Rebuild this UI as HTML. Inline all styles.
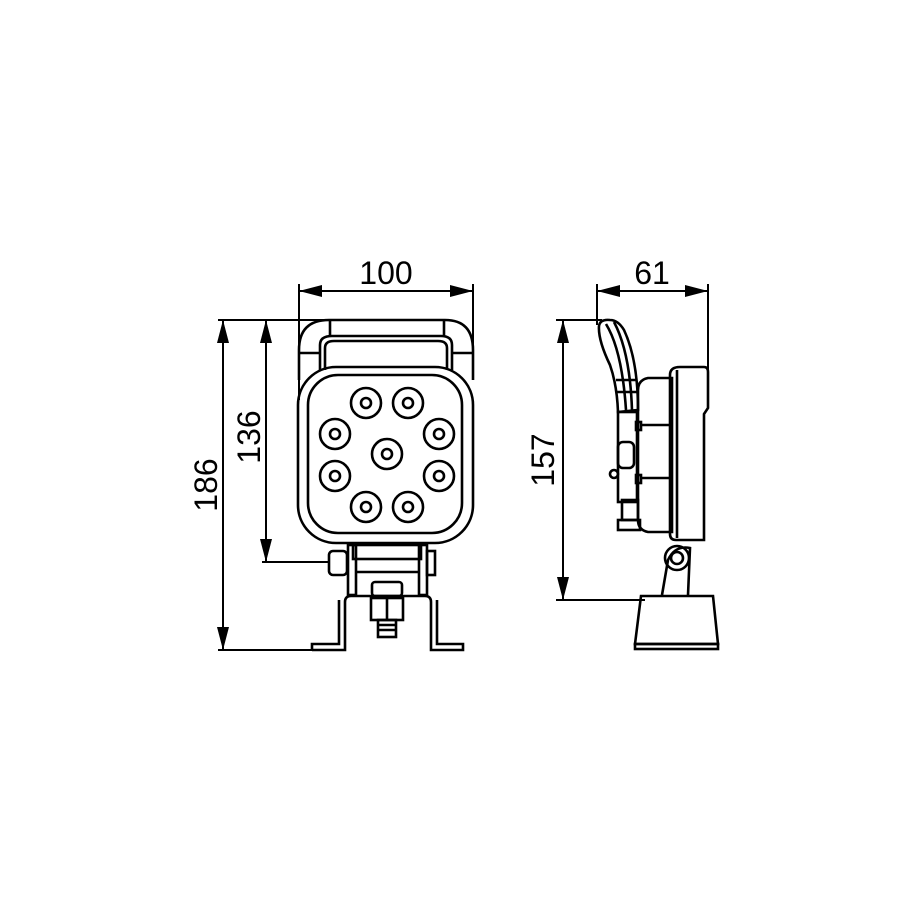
<!DOCTYPE html>
<html><head><style>html,body{margin:0;padding:0;background:#fff}svg{display:block}</style></head>
<body>
<svg width="915" height="915" viewBox="0 0 915 915" xmlns="http://www.w3.org/2000/svg">
<g fill="none" stroke="#000" stroke-width="2">
<line x1="299" y1="291" x2="473" y2="291"/>
<line x1="299" y1="284" x2="299" y2="400"/>
<line x1="473" y1="284" x2="473" y2="345"/>
<line x1="218" y1="320" x2="445" y2="320"/>
<line x1="223" y1="320" x2="223" y2="650"/>
<line x1="218" y1="650" x2="318" y2="650"/>
<line x1="266" y1="320" x2="266" y2="562"/>
<line x1="262" y1="562" x2="330" y2="562"/>
<line x1="597" y1="291" x2="708" y2="291"/>
<line x1="597" y1="284" x2="597" y2="325"/>
<line x1="708" y1="284" x2="708" y2="370"/>
<line x1="563" y1="320" x2="563" y2="600"/>
<line x1="556" y1="320" x2="602" y2="320"/>
<line x1="556" y1="600" x2="645" y2="600"/>
</g>
<g fill="#000">
<polygon points="299,291 322,285 322,297"/>
<polygon points="473,291 450,285 450,297"/>
<polygon points="223,320 217,343 229,343"/>
<polygon points="223,650 217,627 229,627"/>
<polygon points="266,320 260,343 272,343"/>
<polygon points="266,562 260,539 272,539"/>
<polygon points="597,291 620,285 620,297"/>
<polygon points="708,291 685,285 685,297"/>
<polygon points="563,320 557,343 569,343"/>
<polygon points="563,600 557,577 569,577"/>
</g>
<g font-family="Liberation Sans, sans-serif" font-size="32" fill="#000" text-anchor="middle">
<text x="386" y="284">100</text>
<text x="652" y="284">61</text>
<text transform="translate(217,485) rotate(-90)">186</text>
<text transform="translate(260,437) rotate(-90)">136</text>
<text transform="translate(554,460) rotate(-90)">157</text>
</g>
<g fill="none" stroke="#000" stroke-width="2.6">
<path d="M299,380 V350 Q299,320 329,320 H445 Q473,320 473,350 V380"/>
<path d="M320,370 V345 Q320,336 332,336 H441 Q452,336 452,345 V370"/>
<path d="M325,370 V348 Q325,341 334,341 H438 Q447,341 447,348 V370"/>
<line x1="330" y1="320" x2="330" y2="336"/>
<line x1="444" y1="320" x2="444" y2="336"/>
<line x1="299" y1="353" x2="320" y2="353"/>
<line x1="452" y1="353" x2="473" y2="353"/>
<rect x="298" y="367" width="175" height="176" rx="38"/>
<rect x="308" y="375" width="154" height="158" rx="30"/>
<g>
<circle cx="366" cy="403" r="15"/><circle cx="366" cy="403" r="5"/>
<circle cx="408" cy="403" r="15"/><circle cx="408" cy="403" r="5"/>
<circle cx="335" cy="434" r="15"/><circle cx="335" cy="434" r="5"/>
<circle cx="439" cy="434" r="15"/><circle cx="439" cy="434" r="5"/>
<circle cx="387" cy="454" r="15"/><circle cx="387" cy="454" r="5"/>
<circle cx="335" cy="476" r="15"/><circle cx="335" cy="476" r="5"/>
<circle cx="439" cy="476" r="15"/><circle cx="439" cy="476" r="5"/>
<circle cx="366" cy="507" r="15"/><circle cx="366" cy="507" r="5"/>
<circle cx="408" cy="507" r="15"/><circle cx="408" cy="507" r="5"/>
</g>
<rect x="353" y="545" width="68" height="14"/>
<rect x="348" y="545" width="8" height="50"/>
<rect x="419" y="545" width="8" height="50"/>
<rect x="329" y="551" width="18" height="24" rx="4"/>
<rect x="427" y="551" width="8" height="24"/>
<line x1="356" y1="572" x2="419" y2="572"/>
<rect x="372" y="582" width="30" height="14" rx="3"/>
<path d="M312,650 H345 V602 Q345,596 351,596 H425 Q431,596 431,602 V650 H463 V644 H437 V600"/>
<path d="M312,650 V644 H339 V600"/>
<rect x="371" y="598" width="32" height="22"/>
<line x1="387" y1="598" x2="387" y2="620"/>
<rect x="378" y="620" width="18" height="17"/>
<line x1="378" y1="625" x2="396" y2="625"/><line x1="378" y1="630" x2="396" y2="630"/>
</g>
<g fill="none" stroke="#000" stroke-width="2.6">
<path d="M599,326 Q600,319 610,320 Q618,320 624,330 Q638,360 638,410 L618,412 Q617,385 610,365 Q598,340 599,326 Z"/>
<path d="M606,324 Q622,350 626,410"/>
<path d="M614,322 Q630,352 632,410"/>
<line x1="617" y1="392" x2="638" y2="392"/>
<line x1="616" y1="380" x2="636" y2="380"/>
<rect x="618" y="412" width="19" height="90"/>
<rect x="618" y="442" width="16" height="26" rx="5"/>
<circle cx="614" cy="474" r="4"/>
<rect x="622" y="500" width="16" height="20"/>
<rect x="618" y="520" width="22" height="10"/>
<path d="M638,390 Q638,380 648,378 H672 V532 H648 Q638,530 638,520 Z"/>
<line x1="640" y1="425" x2="672" y2="425"/>
<line x1="640" y1="478" x2="672" y2="478"/>
<rect x="636" y="422" width="5" height="8"/><rect x="636" y="475" width="5" height="8"/>
<path d="M670,375 Q670,367 680,367 H704 Q708,367 708,372 V408 L704,414 V540 H676 Q670,540 670,534 Z"/>
<line x1="677" y1="370" x2="677" y2="538"/>
<path d="M662,595 L668,560 Q675,545 690,548 L688,595"/>
<circle cx="677" cy="558" r="12"/><circle cx="677" cy="558" r="6"/>
<path d="M641,596 H713 L718,644 H635 Z"/>
<rect x="635" y="644" width="83" height="5"/>
</g>
</svg>
</body></html>
